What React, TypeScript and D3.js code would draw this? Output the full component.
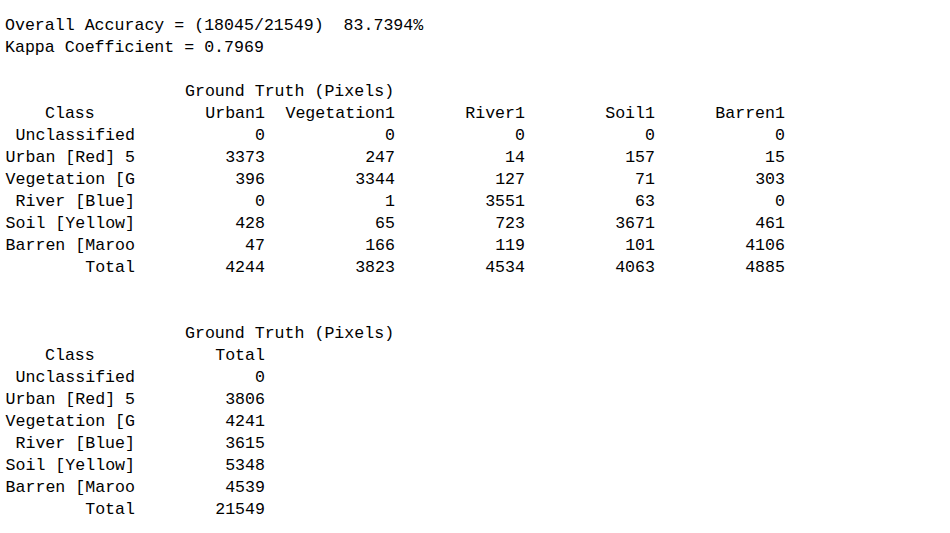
import * as d3 from 'd3'

const accuracyLine = 'Overall Accuracy = (18045/21549)  83.7394%'
const kappaLine = 'Kappa Coefficient = 0.7969'
const header = 'Ground Truth (Pixels)'
const columns = ['Urban1', 'Vegetation1', 'River1', 'Soil1', 'Barren1']
const classes = ['Unclassified', 'Urban [Red] 5', 'Vegetation [G', 'River [Blue]', 'Soil [Yellow]', 'Barren [Maroo', 'Total']
const matrix = [
  [0, 0, 0, 0, 0],
  [3373, 247, 14, 157, 15],
  [396, 3344, 127, 71, 303],
  [0, 1, 3551, 63, 0],
  [428, 65, 723, 3671, 461],
  [47, 166, 119, 101, 4106],
  [4244, 3823, 4534, 4063, 4885],
]
const rowTotals = [0, 3806, 4241, 3615, 5348, 4539, 21549]

const CW = 10 // char width
const FS = 16.6

export default function App() {
  // character column -> pixel
  const x = d3.scaleLinear().domain([0, 1]).range([5, 5 + CW])
  // text line -> baseline
  const y = d3.scaleLinear().domain([0, 1]).range([29.5, 51.5])

  const lines: JSX.Element[] = []
  const put = (key: string, s: string, col: number, line: number, anchor: 'start' | 'end' = 'start') =>
    lines.push(
      <text key={key} x={x(col)} y={y(line)} textAnchor={anchor} xmlSpace="preserve">
        {s}
      </text>
    )

  put('acc', accuracyLine, 0, 0)
  put('kap', kappaLine, 0, 1)

  const block = (start: number, cols: string[], values: number[][]) => {
    put(`h${start}`, header, 18, start)
    put(`c${start}`, 'Class', 4, start + 1)
    cols.forEach((c, j) => put(`ch${start}-${j}`, c, 26 + 13 * j, start + 1, 'end'))
    classes.forEach((cl, i) => {
      put(`r${start}-${i}`, cl, 13, start + 2 + i, 'end')
      values[i].forEach((v, j) => put(`v${start}-${i}-${j}`, String(v), 26 + 13 * j, start + 2 + i, 'end'))
    })
  }
  block(3, columns, matrix)
  block(14, ['Total'], rowTotals.map((t) => [t]))

  return (
    <svg width={950} height={533} style={{ position: 'absolute', left: 0, top: 0, background: '#fff' }}>
      <g fontFamily="'Liberation Mono', 'DejaVu Sans Mono', monospace" fontSize={FS} fill="#000">
        {lines}
      </g>
    </svg>
  )
}
